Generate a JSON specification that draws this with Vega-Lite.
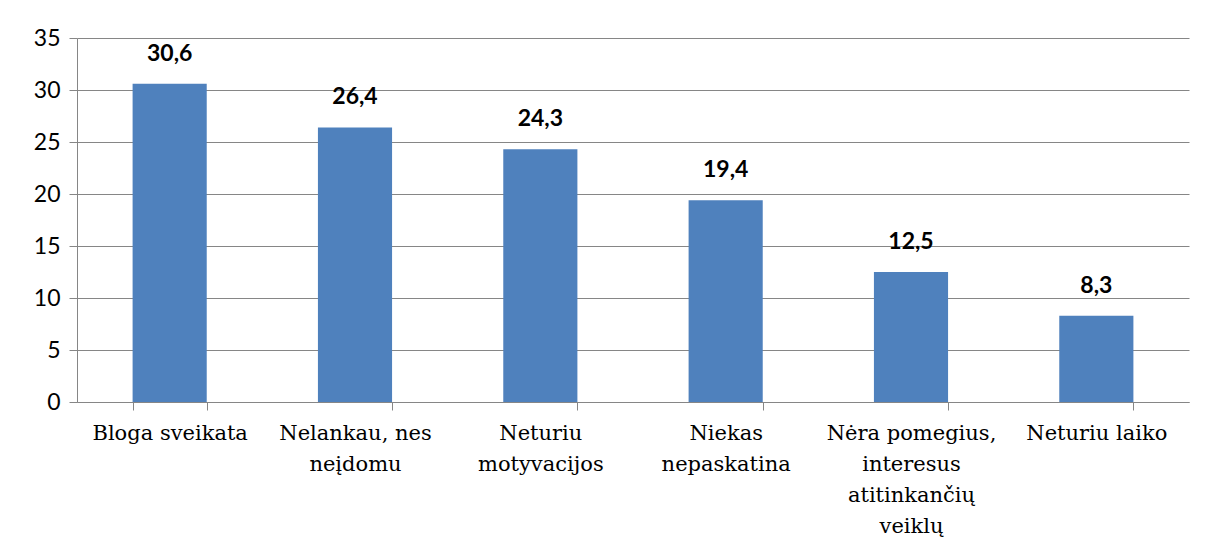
{
  "$schema": "https://vega.github.io/schema/vega-lite/v6.json",
  "width": 1112,
  "height": 364,
  "autosize": "none",
  "padding": {"left": 77, "top": 38, "right": 29, "bottom": 151},
  "background": "white",
  "data": {
    "values": [
      {"kategorija": "Bloga sveikata", "procentai": 30.6},
      {"kategorija": "Nelankau, nes neįdomu", "procentai": 26.4},
      {"kategorija": "Neturiu motyvacijos", "procentai": 24.3},
      {"kategorija": "Niekas nepaskatina", "procentai": 19.4},
      {"kategorija": "Nėra pomegius, interesus atitinkančių veiklų", "procentai": 12.5},
      {"kategorija": "Neturiu laiko", "procentai": 8.3}
    ]
  },
  "encoding": {
    "x": {
      "field": "kategorija",
      "type": "nominal",
      "sort": null,
      "scale": {"paddingInner": 0.6, "paddingOuter": 0.3},
      "axis": {
        "title": null,
        "labelAngle": 0,
        "labelFont": "DejaVu Serif",
        "labelFontSize": 21,
        "labelColor": "#000000",
        "labelLineHeight": 31,
        "labelPadding": 12,
        "labelLimit": 0,
        "tickBand": "extent",
        "tickSize": 8,
        "tickColor": "#868686",
        "domainColor": "#868686",
        "grid": false,
        "labelExpr": "datum.value == 'Nelankau, nes neįdomu' ? ['Nelankau, nes', 'neįdomu'] : datum.value == 'Neturiu motyvacijos' ? ['Neturiu', 'motyvacijos'] : datum.value == 'Niekas nepaskatina' ? ['Niekas', 'nepaskatina'] : datum.value == 'Nėra pomegius, interesus atitinkančių veiklų' ? ['Nėra pomegius,', 'interesus', 'atitinkančių', 'veiklų'] : datum.value"
      }
    },
    "y": {
      "field": "procentai",
      "type": "quantitative",
      "scale": {"domain": [0, 35], "nice": false},
      "axis": {
        "title": null,
        "values": [0, 5, 10, 15, 20, 25, 30, 35],
        "labelFont": "Lato",
        "labelFontSize": 23,
        "labelColor": "#000000",
        "labelPadding": 9,
        "tickSize": 8,
        "tickColor": "#868686",
        "domainColor": "#868686",
        "gridColor": "#868686",
        "gridWidth": 1
      }
    }
  },
  "layer": [
    {"mark": {"type": "bar", "color": "#4F81BD"}},
    {
      "mark": {
        "type": "text",
        "font": "Lato",
        "fontSize": 23,
        "fontWeight": "bold",
        "color": "#000000",
        "baseline": "bottom",
        "dy": -18
      },
      "encoding": {
        "text": {"field": "procentai", "type": "quantitative", "format": ".1f"}
      }
    }
  ],
  "config": {
    "view": {"stroke": null},
    "locale": {
      "number": {
        "decimal": ",",
        "thousands": " ",
        "grouping": [3],
        "currency": ["", " €"]
      }
    }
  }
}
